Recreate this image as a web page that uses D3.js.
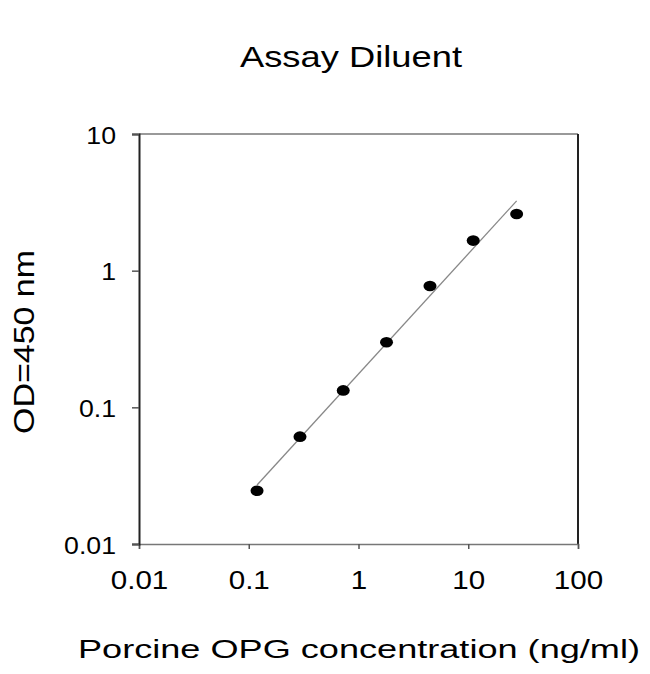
<!DOCTYPE html>
<html>
<head>
<meta charset="utf-8">
<script src="https://cdn.jsdelivr.net/npm/d3@7/dist/d3.min.js"></script>
<style>
  body { margin: 0; background: #fff; }
  text { font-family: 'Liberation Sans', Arial, sans-serif; fill: #000; }
</style>
</head>
<body>
<script>
// Standard curve data
const conc = [0.119, 0.293, 0.726, 1.80, 4.48, 11.1, 27.6];
const od = [0.0245, 0.061, 0.133, 0.299, 0.773, 1.66, 2.6];

// fitted line end points
const fitX = [0.119, 27.6];
const fitY = [0.027, 3.24];

const xTicks = [0.01, 0.1, 1, 10, 100];
const yTicks = [0.01, 0.1, 1, 10];

const title = 'Assay Diluent';
const xTitle = 'Porcine OPG concentration (ng/ml)';
const yTitle = 'OD=450 nm';

// Width and height
const W = 650;
const H = 674;
const margin = { top: 134, right: 72, bottom: 130, left: 139 };
const w = W - margin.left - margin.right;
const h = H - margin.top - margin.bottom;

// the picture is a little stretched sideways
const stretch = 1.16;

const xScale = d3.scaleLog().domain([0.01, 100]).range([0, w]);
const yScale = d3.scaleLog().domain([0.01, 10]).range([h, 0]);

const svg = d3
  .select('body')
  .append('svg')
  .attr('width', W)
  .attr('height', H);

const g = svg
  .append('g')
  .attr('transform', `translate(${margin.left},${margin.top})`);

// frame: top and right edges
g.append('line')
  .attr('x1', 0).attr('x2', w)
  .attr('y1', 0).attr('y2', 0)
  .attr('stroke', '#777')
  .attr('stroke-width', 1.5);
g.append('line')
  .attr('x1', w).attr('x2', w)
  .attr('y1', 0).attr('y2', h)
  .attr('stroke', '#222')
  .attr('stroke-width', 2);

// X axis
const xAxis = g
  .append('g')
  .attr('transform', `translate(0,${h})`)
  .call(
    d3.axisBottom(xScale)
      .tickValues(xTicks)
      .tickFormat(d3.format('~g'))
      .tickSize(5)
      .tickPadding(22)
  );
xAxis.select('.domain').attr('stroke', '#777').attr('stroke-width', 1.5);
xAxis.selectAll('.tick line').attr('stroke', '#555').attr('stroke-width', 1.5);
xAxis
  .selectAll('.tick text')
  .attr('font-size', 25.5)
  .attr('font-family', "'Liberation Sans', Arial, sans-serif")
  .attr('fill', '#000')
  .attr('transform', `scale(${stretch},1)`);

// Y axis
const yAxis = g
  .append('g')
  .call(
    d3.axisLeft(yScale)
      .tickValues(yTicks)
      .tickFormat(d3.format('~g'))
      .tickSize(7)
  );
yAxis.select('.domain').attr('stroke', '#222').attr('stroke-width', 2);
yAxis.selectAll('.tick line').attr('stroke', '#555').attr('stroke-width', 1.5);
yAxis
  .selectAll('.tick text')
  .attr('font-size', 23)
  .attr('font-family', "'Liberation Sans', Arial, sans-serif")
  .attr('fill', '#000')
  .attr('x', -23 / stretch)
  .attr('dy', '0.4em')
  .attr('transform', `scale(${stretch},1)`);

// fitted line
g.append('line')
  .attr('x1', xScale(fitX[0]))
  .attr('y1', yScale(fitY[0]))
  .attr('x2', xScale(fitX[1]))
  .attr('y2', yScale(fitY[1]))
  .attr('stroke', '#888')
  .attr('stroke-width', 1.3);

// points
g.selectAll('ellipse')
  .data(conc)
  .enter()
  .append('ellipse')
  .attr('cx', d => xScale(d))
  .attr('cy', (d, i) => yScale(od[i]))
  .attr('rx', 6.5)
  .attr('ry', 5.3)
  .attr('fill', '#000');

// Titles
svg.append('text')
  .attr('x', 351)
  .attr('y', 67)
  .attr('text-anchor', 'middle')
  .attr('font-size', 30)
  .attr('textLength', 222)
  .attr('lengthAdjust', 'spacingAndGlyphs')
  .text(title);

svg.append('text')
  .attr('x', 359)
  .attr('y', 658)
  .attr('text-anchor', 'middle')
  .attr('font-size', 25.5)
  .attr('textLength', 562)
  .attr('lengthAdjust', 'spacingAndGlyphs')
  .text(xTitle);

svg.append('text')
  .attr('transform', 'translate(34,342) rotate(-90)')
  .attr('text-anchor', 'middle')
  .attr('font-size', 30)
  .attr('textLength', 184)
  .attr('lengthAdjust', 'spacingAndGlyphs')
  .text(yTitle);
</script>
</body>
</html>
